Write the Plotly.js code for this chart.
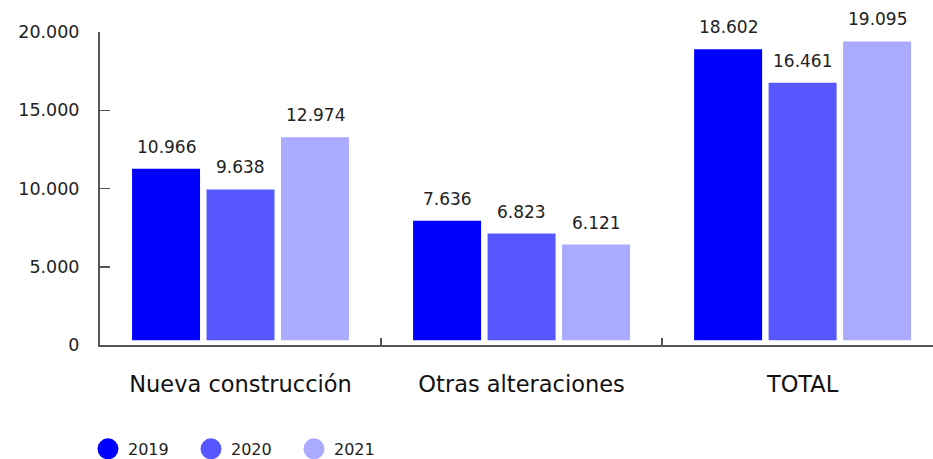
<!DOCTYPE html>
<html>
<head>
<meta charset="utf-8">
<script src="https://cdn.plot.ly/plotly-3.0.1.min.js"></script>
<style>html,body{margin:0;padding:0;background:#fff;}#chart{width:933px;height:459px;}</style>
</head>
<body>
<div id="chart"></div>
<script>
var categories = ["Nueva construcción", "Otras alteraciones", "TOTAL"];
var years = ["2019", "2020", "2021"];
var values2019 = [10966, 7636, 18602];
var values2020 = [9638, 6823, 16461];
var values2021 = [12974, 6121, 19095];
var yTicks = [0, 5000, 10000, 15000, 20000];

var colors = ["#0000FF", "#5757FF", "#AAAAFF"];
var series = [values2019, values2020, values2021];
var BASE = 300;          // small visual lift of the bars above the axis line
var GROUP_SHIFT = 74.5;  // pixel offset between neighbouring bars of a group

function fmt(v) {
  return String(v).replace(/\B(?=(\d{3})+(?!\d))/g, ".");
}

var traces = [];
var annotations = [];
series.forEach(function (vals, i) {
  traces.push({
    type: "bar",
    name: years[i],
    x: categories,
    y: vals,
    base: BASE,
    marker: {color: colors[i]},
    showlegend: false,
    hoverinfo: "x+y+name"
  });
  vals.forEach(function (v, j) {
    annotations.push({
      x: categories[j],
      y: v + BASE,
      xref: "x",
      yref: "y",
      text: fmt(v),
      showarrow: false,
      xshift: (i - 1) * GROUP_SHIFT,
      yshift: 22,
      yanchor: "middle",
      xanchor: "center",
      font: {family: "'DejaVu Sans', sans-serif", size: 17, color: "#222"}
    });
  });
});
series.forEach(function (vals, i) {
  traces.push({
    type: "scatter",
    mode: "markers",
    name: years[i],
    x: [null],
    y: [null],
    marker: {color: colors[i], size: 16, symbol: "circle", line: {color: colors[i], width: 5}},
    showlegend: true,
    hoverinfo: "skip"
  });
});

var layout = {
  width: 933,
  height: 459,
  margin: {l: 100, r: 0, t: 32, b: 114},
  paper_bgcolor: "#fff",
  plot_bgcolor: "#fff",
  separators: ",.",
  barmode: "group",
  bargap: 0.205,
  bargroupgap: 0.087,
  font: {family: "'DejaVu Sans', sans-serif", color: "#222"},
  annotations: annotations,
  xaxis: {
    type: "category",
    range: [-0.5, 2.464],
    showline: true,
    linecolor: "#555",
    linewidth: 2,
    ticks: "inside",
    tickson: "boundaries",
    ticklen: 7,
    tickwidth: 1.5,
    tickcolor: "#555",
    showgrid: false,
    zeroline: false,
    tickfont: {family: "'DejaVu Sans', sans-serif", size: 22.5, color: "#111"},
    ticklabelstandoff: 18
  },
  yaxis: {
    range: [0, 20000],
    tickvals: yTicks,
    tickformat: ",",
    showline: true,
    linecolor: "#555",
    linewidth: 2,
    ticks: "inside",
    ticklen: 10,
    tickwidth: 1.5,
    tickcolor: "#555",
    showgrid: false,
    zeroline: false,
    tickfont: {family: "'DejaVu Sans', sans-serif", size: 17.5, color: "#222"},
    ticklabelstandoff: 15
  },
  showlegend: true,
  legend: {
    orientation: "h",
    xref: "container",
    yref: "container",
    x: 0.0943,
    xanchor: "left",
    y: 0.022,
    yanchor: "middle",
    entrywidth: 58,
    entrywidthmode: "pixels",
    font: {family: "'DejaVu Sans', sans-serif", size: 16, color: "#222"},
    itemclick: false
  }
};

Plotly.newPlot("chart", traces, layout, {displayModeBar: false, staticPlot: true});
</script>
</body>
</html>
